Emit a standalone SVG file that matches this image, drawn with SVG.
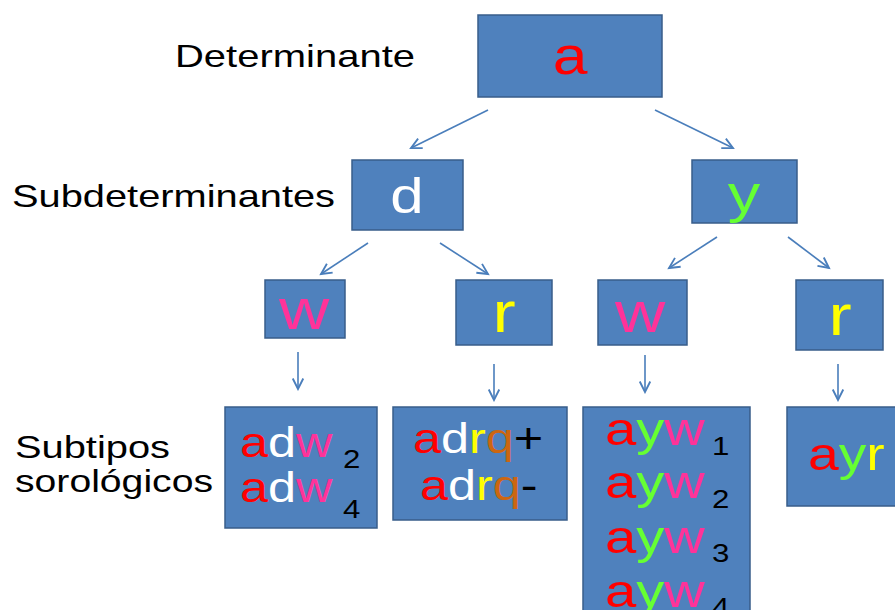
<svg xmlns="http://www.w3.org/2000/svg" width="895" height="610" viewBox="0 0 895 610">
<defs>
<marker id="ah" markerUnits="userSpaceOnUse" markerWidth="14" markerHeight="14" refX="10" refY="5" orient="auto" viewBox="0 0 12 10">
<path d="M1,0.5 L10,5 L1,9.5" fill="none" stroke="#4A7EBB" stroke-width="1.6"/>
</marker>
<style>
.box{fill:#4F81BD;stroke:#385D8A;stroke-width:1.5}
.lbl{font-family:"Liberation Sans",Arial,sans-serif;font-size:32px;fill:#000}
.t{font-family:"Liberation Sans",Arial,sans-serif}
.red{fill:#FF0000}.wht{fill:#FFFFFF}.pnk{fill:#FF3399}.yel{fill:#FFFF00}.grn{fill:#66FF33}.brn{fill:#CC6611}.blk{fill:#000}
.con{stroke:#4A7EBB;stroke-width:1.6;fill:none;marker-end:url(#ah)}
</style>
</defs>
<rect width="895" height="610" fill="#fff"/>

<g id="labels">
<text class="lbl" x="175" y="67" textLength="240" lengthAdjust="spacingAndGlyphs">Determinante</text>
<text class="lbl" x="12" y="207" textLength="323" lengthAdjust="spacingAndGlyphs">Subdeterminantes</text>
<text class="lbl" x="15" y="458" textLength="155" lengthAdjust="spacingAndGlyphs">Subtipos</text>
<text class="lbl" x="15" y="492" textLength="198" lengthAdjust="spacingAndGlyphs">sorológicos</text>
</g>

<g id="connectors">
<line class="con" x1="488" y1="110" x2="411" y2="148"/>
<line class="con" x1="655" y1="110" x2="733" y2="148"/>
<line class="con" x1="368" y1="243" x2="321" y2="274"/>
<line class="con" x1="440" y1="243" x2="488" y2="274"/>
<line class="con" x1="717" y1="237" x2="669" y2="268"/>
<line class="con" x1="788" y1="237" x2="829" y2="268"/>
<line class="con" x1="298" y1="352" x2="298" y2="389"/>
<line class="con" x1="494" y1="364" x2="494" y2="400"/>
<line class="con" x1="645" y1="355" x2="645" y2="392"/>
<line class="con" x1="838" y1="364" x2="838" y2="400"/>
</g>

<g id="node-a">
<rect class="box" x="478" y="15" width="184" height="82"/>
<text class="t red" transform="translate(570,74) scale(1.2,1)" font-size="52" text-anchor="middle">a</text>
</g>
<g id="node-d">
<rect class="box" x="352" y="160" width="111" height="70"/>
<text class="t wht" transform="translate(407,213) scale(1.2,1)" font-size="50" text-anchor="middle">d</text>
</g>
<g id="node-y">
<rect class="box" x="692" y="160" width="105" height="63"/>
<text class="t grn" transform="translate(744,212) scale(1.2,1)" font-size="54" text-anchor="middle">y</text>
</g>
<g id="node-dw">
<rect class="box" x="265" y="280" width="80" height="58"/>
<text class="t pnk" transform="translate(304,329) scale(1.2,1)" font-size="58" text-anchor="middle">w</text>
</g>
<g id="node-dr">
<rect class="box" x="456" y="280" width="96" height="65"/>
<text class="t yel" transform="translate(504,332) scale(1.2,1)" font-size="58" text-anchor="middle">r</text>
</g>
<g id="node-yw">
<rect class="box" x="598" y="280" width="89" height="65"/>
<text class="t pnk" transform="translate(640,332) scale(1.2,1)" font-size="58" text-anchor="middle">w</text>
</g>
<g id="node-yr">
<rect class="box" x="796" y="280" width="87" height="70"/>
<text class="t yel" transform="translate(840,335) scale(1.2,1)" font-size="58" text-anchor="middle">r</text>
</g>

<g id="node-adw">
<rect class="box" x="225" y="407" width="152" height="121"/>
<text class="t" transform="translate(240,457) scale(1.2,1)" font-size="42"><tspan class="red">a</tspan><tspan class="wht">d</tspan><tspan class="pnk">w</tspan></text>
<text class="t blk" transform="translate(343,468) scale(1.2,1)" font-size="26">2</text>
<text class="t" transform="translate(240,502) scale(1.2,1)" font-size="42"><tspan class="red">a</tspan><tspan class="wht">d</tspan><tspan class="pnk">w</tspan></text>
<text class="t blk" transform="translate(343,518) scale(1.2,1)" font-size="26">4</text>
</g>

<g id="node-adrq">
<rect class="box" x="393" y="407" width="174" height="113"/>
<text class="t" transform="translate(413,453) scale(1.2,1)" font-size="42"><tspan class="red">a</tspan><tspan class="wht">d</tspan><tspan class="yel">r</tspan><tspan class="brn">q</tspan><tspan class="blk">+</tspan></text>
<text class="t" transform="translate(420,500) scale(1.2,1)" font-size="42"><tspan class="red">a</tspan><tspan class="wht">d</tspan><tspan class="yel">r</tspan><tspan class="brn">q</tspan><tspan class="blk">-</tspan></text>
</g>

<g id="node-ayw">
<rect class="box" x="583" y="407" width="167" height="215"/>
<text class="t" transform="translate(605,445) scale(1.22,1)" font-size="46"><tspan class="red">a</tspan><tspan class="grn">y</tspan><tspan class="pnk">w</tspan></text>
<text class="t blk" transform="translate(712,455) scale(1.2,1)" font-size="26">1</text>
<text class="t" transform="translate(605,498) scale(1.22,1)" font-size="46"><tspan class="red">a</tspan><tspan class="grn">y</tspan><tspan class="pnk">w</tspan></text>
<text class="t blk" transform="translate(712,508) scale(1.2,1)" font-size="26">2</text>
<text class="t" transform="translate(605,553) scale(1.22,1)" font-size="46"><tspan class="red">a</tspan><tspan class="grn">y</tspan><tspan class="pnk">w</tspan></text>
<text class="t blk" transform="translate(712,562) scale(1.2,1)" font-size="26">3</text>
<text class="t" transform="translate(605,607) scale(1.22,1)" font-size="46"><tspan class="red">a</tspan><tspan class="grn">y</tspan><tspan class="pnk">w</tspan></text>
<text class="t blk" transform="translate(712,616) scale(1.2,1)" font-size="26">4</text>
</g>

<g id="node-ayr">
<rect class="box" x="787" y="407" width="115" height="99"/>
<text class="t" transform="translate(808,470) scale(1.2,1)" font-size="46"><tspan class="red">a</tspan><tspan class="grn">y</tspan><tspan class="yel">r</tspan></text>
</g>
</svg>
